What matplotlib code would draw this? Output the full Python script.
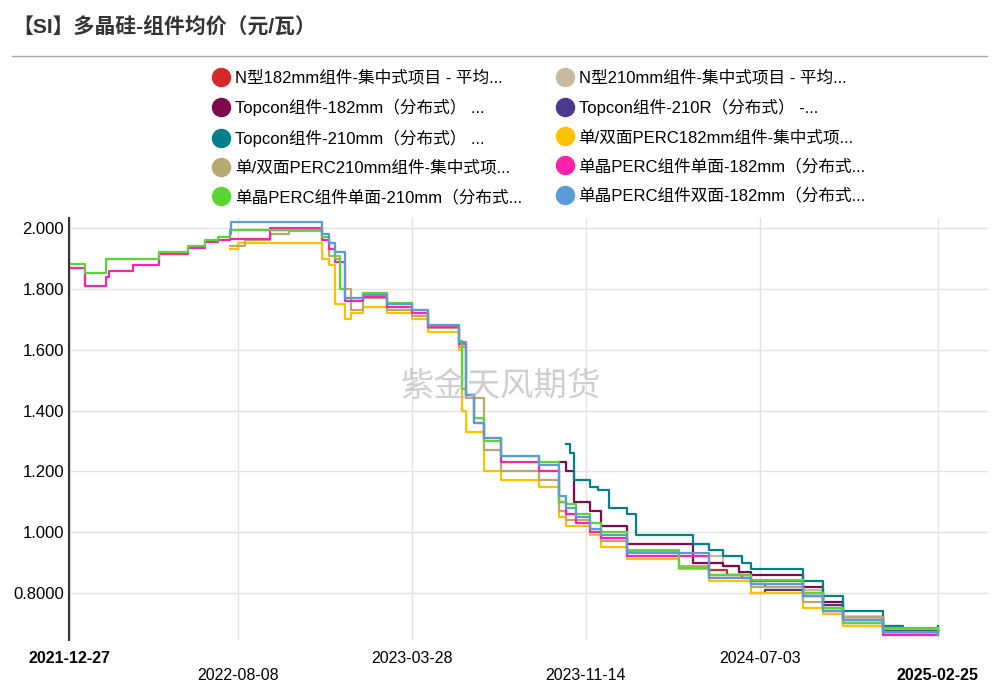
import matplotlib
matplotlib.use("Agg")
import matplotlib.pyplot as plt
import matplotlib.dates as mdates
import pandas as pd

plt.rcParams['font.family'] = ['Liberation Sans', 'Noto Sans CJK SC', 'DejaVu Sans']

names = ["N型182mm组件-集中式项目 - 平均...", "N型210mm组件-集中式项目 - 平均...",
         "Topcon组件-182mm（分布式） ...", "Topcon组件-210R（分布式） -...",
         "Topcon组件-210mm（分布式） ...", "单/双面PERC182mm组件-集中式项...",
         "单/双面PERC210mm组件-集中式项...", "单晶PERC组件单面-182mm（分布式...",
         "单晶PERC组件单面-210mm（分布式...", "单晶PERC组件双面-182mm（分布式..."]
colors = ["#d42a2a", "#c9b9a0", "#7d0a4e", "#4a3a8e", "#00808a", "#ffc000",
          "#b9a970", "#ff22aa", "#5ad632", "#5b9bd8"]

green_d = ["2021-12-27","2022-01-16","2022-02-13","2022-04-25","2022-06-03","2022-06-25","2022-07-12","2022-07-28",
           "2022-11-28","2022-12-08","2022-12-16","2022-12-22","2022-12-29","2023-01-05","2023-01-21","2023-02-23",
           "2023-03-28","2023-04-18","2023-05-29","2023-06-02","2023-06-08","2023-06-18","2023-07-02","2023-07-24",
           "2023-09-13","2023-10-09","2023-10-19","2023-11-01","2023-11-20","2023-12-05","2024-01-08","2024-03-17",
           "2024-04-27","2024-06-21","2024-08-29","2024-09-25","2024-10-22","2024-12-14","2025-02-25"]
green_v = [1.882,1.852,1.898,1.921,1.941,1.961,1.970,1.993,
           1.97,1.95,1.90,1.80,1.77,1.77,1.786,1.753,
           1.73,1.68,1.63,1.47,1.45,1.375,1.30,1.25,
           1.23,1.10,1.092,1.06,1.03,1.00,0.938,0.882,
           0.86,0.842,0.80,0.75,0.70,0.685,0.675]

pink_d = ["2021-12-27","2022-01-16","2022-02-13","2022-02-18","2022-03-21","2022-04-25","2022-06-03","2022-06-25",
          "2022-07-12","2022-07-28","2022-09-20","2022-11-28","2022-12-08","2022-12-16","2022-12-29","2023-01-21",
          "2023-02-23","2023-03-28","2023-04-18","2023-05-29","2023-06-08","2023-06-18","2023-07-02","2023-07-24",
          "2023-09-13","2023-10-09","2023-10-19","2023-11-01","2023-11-20","2023-12-05","2024-01-08","2024-04-27",
          "2024-06-21","2024-08-29","2024-09-25","2024-10-22","2024-12-14","2025-02-25"]
pink_v = [1.87,1.81,1.84,1.86,1.88,1.915,1.935,1.955,
          1.96,1.965,2.00,1.96,1.93,1.89,1.76,1.775,
          1.74,1.72,1.675,1.62,1.45,1.36,1.31,1.23,
          1.20,1.10,1.06,1.03,1.00,0.98,0.92,0.86,
          0.84,0.79,0.74,0.70,0.66,0.66]

blue_d = ["2022-07-28","2022-07-30","2022-11-28","2022-12-08","2022-12-16","2022-12-29","2023-01-21","2023-02-23",
          "2023-03-28","2023-04-18","2023-05-29","2023-06-08","2023-06-18","2023-07-02","2023-07-24","2023-09-13",
          "2023-10-09","2023-10-19","2023-11-01","2023-11-20","2023-12-05","2024-01-08","2024-04-27","2024-06-21",
          "2024-08-29","2024-09-25","2024-10-22","2024-12-14","2025-02-25"]
blue_v = [1.98,2.02,1.98,1.95,1.92,1.77,1.78,1.75,
          1.73,1.68,1.625,1.45,1.36,1.31,1.25,1.22,
          1.12,1.08,1.05,1.01,0.99,0.93,0.85,0.83,
          0.79,0.74,0.71,0.67,0.66]

yellow_d = ["2022-07-28","2022-08-08","2022-11-28","2022-12-08","2022-12-16","2022-12-29","2023-01-05","2023-01-21",
            "2023-02-23","2023-03-28","2023-04-18","2023-05-29","2023-06-02","2023-06-08","2023-07-02","2023-07-24",
            "2023-09-13","2023-10-09","2023-10-19","2023-11-20","2023-12-05","2024-01-08","2024-03-17","2024-04-27",
            "2024-06-21","2024-08-29","2024-09-25","2024-10-22","2024-12-14","2025-02-25"]
yellow_v = [1.93,1.95,1.90,1.88,1.75,1.70,1.72,1.74,
            1.72,1.70,1.66,1.60,1.40,1.33,1.20,1.17,
            1.15,1.05,1.02,0.99,0.95,0.91,0.88,0.84,
            0.80,0.75,0.73,0.69,0.665,0.66]

khaki_d = ["2022-07-28","2022-08-18","2022-09-20","2022-10-15","2022-11-28","2022-12-08","2022-12-22","2023-01-05",
           "2023-01-21","2023-02-23","2023-03-28","2023-04-18","2023-05-29","2023-06-08","2023-07-02","2023-07-24",
           "2023-09-13","2023-10-09","2023-10-19","2023-11-20","2023-12-05","2024-01-08","2024-03-17","2024-04-27",
           "2024-06-21","2024-08-29","2024-09-25","2024-10-22","2024-12-14","2025-02-25"]
khaki_v = [1.94,1.96,1.98,1.99,1.96,1.91,1.80,1.73,
           1.77,1.73,1.71,1.67,1.61,1.44,1.27,1.20,
           1.17,1.07,1.04,1.01,0.97,0.94,0.89,0.86,
           0.82,0.77,0.74,0.72,0.68,0.675]

teal_d = ["2023-10-19","2023-10-24","2023-10-30","2023-11-20","2023-12-01","2023-12-15","2024-01-08","2024-01-20",
          "2024-03-17","2024-04-05","2024-04-27","2024-05-15","2024-06-10","2024-06-21","2024-08-29","2024-09-25",
          "2024-10-22","2024-12-14","2025-01-10","2025-02-20","2025-02-25"]
teal_v = [1.29,1.26,1.17,1.15,1.14,1.08,1.06,0.99,
          0.99,0.96,0.94,0.92,0.90,0.88,0.84,0.79,
          0.74,0.69,0.68,0.67,0.69]

maroon_d = ["2023-10-09","2023-10-19","2023-10-30","2023-11-20","2023-12-05","2024-01-08","2024-03-17","2024-04-05",
            "2024-05-15","2024-06-05","2024-06-21","2024-08-29","2024-09-25","2024-10-22","2024-12-14","2025-02-25"]
maroon_v = [1.23,1.20,1.10,1.07,1.02,0.96,0.96,0.90,
            0.89,0.87,0.86,0.82,0.77,0.72,0.68,0.67]

red_d = ["2024-04-27","2024-05-20","2024-06-10","2024-06-21","2024-07-10","2024-08-29","2024-09-25","2024-10-22",
         "2024-12-14","2025-02-25"]
red_v = [0.875,0.86,0.85,0.83,0.82,0.80,0.75,0.71,0.68,0.67]

tan_d = ["2024-04-27","2024-05-15","2024-06-05","2024-06-21","2024-08-29","2024-09-25","2024-10-22","2024-12-14",
         "2025-01-10","2025-02-25"]
tan_v = [0.92,0.89,0.86,0.84,0.81,0.75,0.72,0.69,0.685,0.68]

purple_d = ["2024-06-21","2024-07-10","2024-08-29","2024-09-25","2024-10-22","2024-12-14","2025-02-25"]
purple_v = [0.80,0.81,0.79,0.76,0.72,0.675,0.67]

series = [(red_d, red_v), (tan_d, tan_v), (maroon_d, maroon_v), (purple_d, purple_v), (teal_d, teal_v),
          (yellow_d, yellow_v), (khaki_d, khaki_v), (pink_d, pink_v), (green_d, green_v), (blue_d, blue_v)]

fig = plt.figure(figsize=(9.99, 6.86), dpi=100)
fig.text(0.012, 0.953, "【SI】多晶硅-组件均价（元/瓦）", fontsize=15, fontweight='bold', color='#333333')
fig.add_artist(plt.Line2D([0.012, 0.988], [0.918, 0.918], color='#aaaaaa', lw=1))
ax = fig.add_axes([0.069, 0.067, 0.92, 0.615])

handles = []
for (d, v), c, n in zip(series, colors, names):
    h, = ax.plot(pd.to_datetime(d), v, drawstyle='steps-post', color=c, lw=1.6, label=n)
    handles.append(h)

ax.set_ylim(0.645, 2.033)
ax.set_xlim(pd.Timestamp("2021-12-26"), pd.Timestamp("2025-05-03"))
ax.set_yticks([0.8, 1.0, 1.2, 1.4, 1.6, 1.8, 2.0])
ax.set_yticklabels(["0.8000", "1.000", "1.200", "1.400", "1.600", "1.800", "2.000"], fontsize=12)
ticks = pd.to_datetime(["2021-12-27", "2022-08-08", "2023-03-28", "2023-11-14", "2024-07-03", "2025-02-25"])
ax.set_xticks(ticks)
ax.set_xticklabels([])
for i, t in enumerate(ticks):
    ax.annotate(t.strftime("%Y-%m-%d"), (mdates.date2num(t), 0), xycoords=('data', 'axes fraction'),
                xytext=(0, -8 if i % 2 == 0 else -20), textcoords='offset points', ha='center', va='top',
                fontsize=11.5, fontweight='bold' if i in (0, 5) else 'normal')
ax.tick_params(axis='x', length=0)
ax.tick_params(axis='y', length=0)
ax.grid(True, color='#e3e3e3', lw=1)
ax.set_axisbelow(True)
for s in ['top', 'right', 'bottom']:
    ax.spines[s].set_visible(False)
ax.spines['left'].set_color('#333333')
ax.spines['left'].set_linewidth(1.5)
ax.text(0.47, 0.6, "紫金天风期货", transform=ax.transAxes, fontsize=24, color='#bbbbbb', alpha=0.7,
        ha='center', va='center', family='Noto Sans CJK SC')

order = [0, 2, 4, 6, 8, 1, 3, 5, 7, 9]
leg = fig.legend(handles=[handles[i] for i in order], loc='upper left', bbox_to_anchor=(0.2, 0.92), ncol=2,
                 frameon=False, fontsize=12, handlelength=0.8, handleheight=0.8, columnspacing=2.2,
                 labelspacing=0.8, handletextpad=0.4)
for h in leg.legend_handles:
    h.set_marker('o'); h.set_linestyle(''); h.set_markersize(13)

fig.savefig("out.png", dpi=100)
